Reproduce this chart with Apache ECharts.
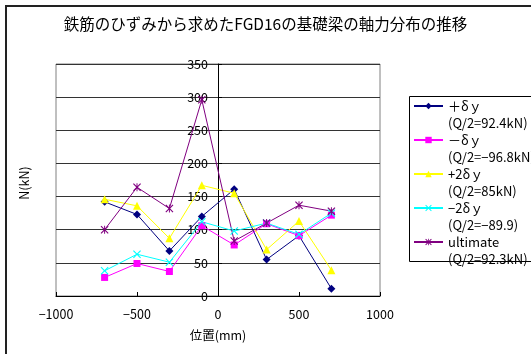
<!DOCTYPE html>
<html>
<head>
<meta charset="utf-8">
<script src="https://cdn.jsdelivr.net/npm/echarts@6/dist/echarts.min.js"></script>
<style>
  html, body { margin: 0; padding: 0; background: #fff; }
  #chart { width: 531px; height: 354px; }
</style>
</head>
<body>
<div id="chart"></div>
<script>
// Positions along the footing beam (mm)
const positions = [-700, -500, -300, -100, 100, 300, 500, 700];

// Axial force N (kN) at each gauge position, per loading stage
const plusDy   = [142, 123, 68, 120, 161, 55, 91, 11];
const minusDy  = [28, 49, 37, 106, 77, 109, 91, 122];
const plus2Dy  = [146, 136, 87, 167, 155, 70, 113, 39];
const minus2Dy = [38, 63, 51, 112, 98, 110, 93, 125];
const ultimate = [100, 164, 132, 296, 83, 110, 137, 128];

const seriesNames = ['＋δｙ', '－δｙ', '+2δｙ', '−2δｙ', 'ultimate'];
const seriesNotes = ['(Q/2=92.4kN)', '(Q/2=−96.8kN)', '(Q/2=85kN)', '(Q/2=−89.9)', '(Q/2=92.3kN)'];
const seriesValues = [plusDy, minusDy, plus2Dy, minus2Dy, ultimate];
const seriesColors = ['#000080', '#FF00FF', '#FFFF00', '#00FFFF', '#800080'];

const xTicks = { min: -1000, max: 1000, step: 500 };
const yTicks = { min: 0, max: 350, step: 50 };

const FONT = '"Noto Sans CJK JP", "Noto Sans", sans-serif';

const crossPath = 'path://M1,0L5,4L9,0L10,1L6,5L10,9L9,10L5,6L1,10L0,9L4,5L0,1Z';
const starPath = 'path://M1,0L5,4L9,0L10,1L6,5L10,9L9,10L5,6L1,10L0,9L4,5L0,1Z M4.4,0L5.6,0L5.6,10L4.4,10Z';
const symbols = ['diamond', 'rect', 'triangle', crossPath, starPath];
const symbolSizes = [8, 7, 8, 8, 8];

const noteOf = {};
seriesNames.forEach((n, i) => { noteOf[n] = seriesNotes[i]; });

// Plot area in pixels; the N axis is drawn through x = 0 (the beam centre)
const plotLeft = 56, plotRight = 380;
const zeroShift = (plotRight - plotLeft) * (0 - xTicks.min) / (xTicks.max - xTicks.min);

const chart = echarts.init(document.getElementById('chart'), null, { renderer: 'canvas' });

const minusSign = v => String(v).replace('-', '−');

chart.setOption({
  backgroundColor: '#fff',
  animation: false,
  title: {
    text: '鉄筋のひずみから求めたFGD16の基礎梁の軸力分布の推移',
    left: 'center',
    top: 11,
    textStyle: { fontFamily: FONT, fontSize: 15.5, fontWeight: 'normal', color: '#000' }
  },
  grid: {
    left: plotLeft, right: 531 - plotRight, top: 64, bottom: 58,
    show: true, borderColor: '#808080', borderWidth: 1, backgroundColor: '#fff'
  },
  legend: {
    orient: 'vertical',
    left: 413,
    top: 80.5,
    padding: 0,
    itemWidth: 29,
    itemHeight: 8,
    itemGap: -17,
    data: seriesNames,
    formatter: name => '\n' + name + '\n' + noteOf[name],
    textStyle: { fontFamily: FONT, fontSize: 13, color: '#000', lineHeight: 17 }
  },
  xAxis: {
    type: 'value',
    min: xTicks.min, max: xTicks.max, interval: xTicks.step,
    name: '位置(mm)',
    nameLocation: 'middle',
    nameGap: 33,
    nameTextStyle: { fontFamily: FONT, fontSize: 12.5, color: '#000' },
    axisLine: { onZero: false, lineStyle: { color: '#000', width: 1 } },
    axisTick: { show: true, inside: true, length: 4, lineStyle: { color: '#000' } },
    axisLabel: { fontFamily: FONT, fontSize: 12.5, color: '#000', margin: 12, formatter: minusSign },
    splitLine: { show: false }
  },
  yAxis: {
    type: 'value',
    position: 'left',
    offset: -zeroShift,
    min: yTicks.min, max: yTicks.max, interval: yTicks.step,
    axisLine: { show: true, onZero: false, lineStyle: { color: '#000', width: 1 } },
    axisTick: { show: true, inside: true, length: 4, lineStyle: { color: '#000' } },
    axisLabel: { fontFamily: FONT, fontSize: 12.5, color: '#000', margin: 10 },
    splitLine: { show: true, lineStyle: { color: '#333', width: 1 } }
  },
  graphic: [
    {
      type: 'rect', silent: true, z: 100,
      shape: { x: 6, y: 6, width: 620, height: 420 },
      style: { fill: null, stroke: '#222', lineWidth: 2 }
    },
    {
      type: 'rect', silent: true, z: 100,
      shape: { x: 409.5, y: 96.5, width: 200, height: 165 },
      style: { fill: null, stroke: '#000', lineWidth: 1 }
    },
    {
      type: 'text', silent: true, z: 100,
      x: 24, y: 183, rotation: Math.PI / 2,
      style: {
        text: 'N(kN)', fontFamily: FONT, fontSize: 12.5, fill: '#000',
        align: 'center', verticalAlign: 'middle'
      }
    }
  ],
  series: seriesNames.map((name, i) => ({
    name,
    type: 'line',
    data: positions.map((x, j) => [x, seriesValues[i][j]]),
    symbol: symbols[i],
    symbolSize: symbolSizes[i],
    showAllSymbol: true,
    lineStyle: { color: seriesColors[i], width: 1 },
    itemStyle: { color: seriesColors[i], borderWidth: 0 },
    emphasis: { disabled: true }
  }))
});
</script>
</body>
</html>
